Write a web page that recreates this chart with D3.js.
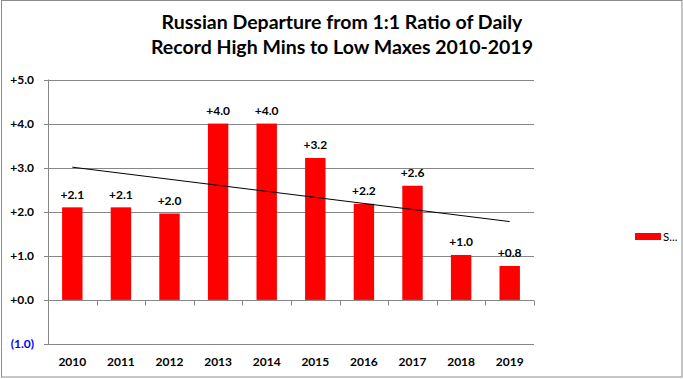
<!DOCTYPE html>
<html><head><meta charset="utf-8">
<script src="https://cdn.jsdelivr.net/npm/d3@7"></script>
<style>
html,body{margin:0;padding:0;background:#fff;}
svg{display:block;font-family:Lato,"Open Sans",sans-serif;}
</style></head>
<body>
<script>
const years = ["2010","2011","2012","2013","2014","2015","2016","2017","2018","2019"];
const values = [2.1, 2.1, 1.96, 4.0, 4.0, 3.22, 2.18, 2.59, 1.02, 0.77];
const yTicks = [-1, 0, 1, 2, 3, 4, 5];
const titleLines = ["Russian  Departure  from 1:1 Ratio of Daily", "Record High Mins to Low Maxes 2010-2019"];
const legendLabel = "S...";

(function () {
const W = 683, H = 379;
const svg = d3.select("body").append("svg").attr("width", W).attr("height", H);

svg.append("rect").attr("x", 1.5).attr("y", 0.5).attr("width", 680.5).attr("height", 376.5)
  .attr("fill", "#fff").attr("stroke", "#8c8c8c").attr("stroke-width", 1);

const pL = 48, pR = 534, pT = 79.5, pB = 344;
const x = d3.scaleBand().domain(years).range([pL, pR]).paddingInner(0.58).paddingOuter(0.29);
const xb = d3.scaleBand().domain(years).range([pL, pR]);
const y = d3.scaleLinear().domain([-1, 5]).range([pB, pT]);

const fmt = v => v < 0 ? "(" + Math.abs(v).toFixed(1) + ")" : "+" + v.toFixed(1);

const g = svg.append("g");
g.selectAll("line.grid").data(yTicks).join("line")
  .attr("x1", pL - 4).attr("x2", pR)
  .attr("y1", d => Math.round(y(d)) + 0.5).attr("y2", d => Math.round(y(d)) + 0.5)
  .attr("stroke", "#868686").attr("stroke-width", 1);
g.append("line").attr("x1", pL + 0.5).attr("x2", pL + 0.5)
  .attr("y1", y(5)).attr("y2", y(-1)).attr("stroke", "#868686");
g.selectAll("text.yl").data(yTicks).join("text")
  .attr("x", 34).attr("y", d => y(d)).attr("dy", "0.35em")
  .attr("text-anchor", "end").attr("font-size", 12).attr("font-weight", "bold")
  .attr("fill", d => d < 0 ? "#0000ff" : "#000").text(fmt);

svg.selectAll("rect.bar").data(values).join("rect")
  .attr("x", (d, i) => x(years[i])).attr("width", x.bandwidth())
  .attr("y", d => y(d)).attr("height", d => y(0) - y(d)).attr("fill", "#ff0000");

const y0 = Math.round(y(0)) + 0.5;
svg.selectAll("line.xt").data(years.slice(1)).join("line")
  .attr("x1", d => Math.round(xb(d)) + 0.5).attr("x2", d => Math.round(xb(d)) + 0.5)
  .attr("y1", y0).attr("y2", y0 + 5).attr("stroke", "#868686");
svg.append("line").attr("x1", pR + 0.5).attr("x2", pR + 0.5)
  .attr("y1", y0).attr("y2", y0 + 5).attr("stroke", "#868686");

svg.selectAll("text.xl").data(years).join("text")
  .attr("x", d => xb(d) + xb.bandwidth() / 2).attr("y", 362).attr("dy", "0.35em")
  .attr("text-anchor", "middle").attr("font-size", 12).attr("font-weight", "bold").text(d => d);

svg.selectAll("text.dl").data(values).join("text")
  .attr("x", (d, i) => xb(years[i]) + xb.bandwidth() / 2).attr("y", d => y(d) - 13).attr("dy", "0.35em")
  .attr("text-anchor", "middle").attr("font-size", 12).attr("font-weight", "bold").text(d => fmt(d));

const n = values.length;
const xs = d3.range(n);
const mx = d3.mean(xs), my = d3.mean(values);
const slope = d3.sum(xs, i => (i - mx) * (values[i] - my)) / d3.sum(xs, i => (i - mx) ** 2);
const icpt = my - slope * mx;
const cx = i => xb(years[i]) + xb.bandwidth() / 2;
svg.append("line")
  .attr("x1", cx(0)).attr("y1", y(icpt))
  .attr("x2", cx(n - 1)).attr("y2", y(icpt + slope * (n - 1)))
  .attr("stroke", "#000").attr("stroke-width", 1);

svg.selectAll("text.title").data(titleLines).join("text")
  .attr("x", 342).attr("y", (d, i) => 22 + i * 25).attr("dy", "0.35em")
  .attr("text-anchor", "middle").attr("font-size", 19.5).attr("font-weight", "bold").text(d => d);

svg.append("rect").attr("x", 635).attr("y", 233).attr("width", 26).attr("height", 7).attr("fill", "#ff0000");
svg.append("text").attr("x", 663).attr("y", 236.5).attr("dy", "0.35em")
  .attr("font-size", 11.5).text(legendLabel);
})();
</script>
</body></html>
